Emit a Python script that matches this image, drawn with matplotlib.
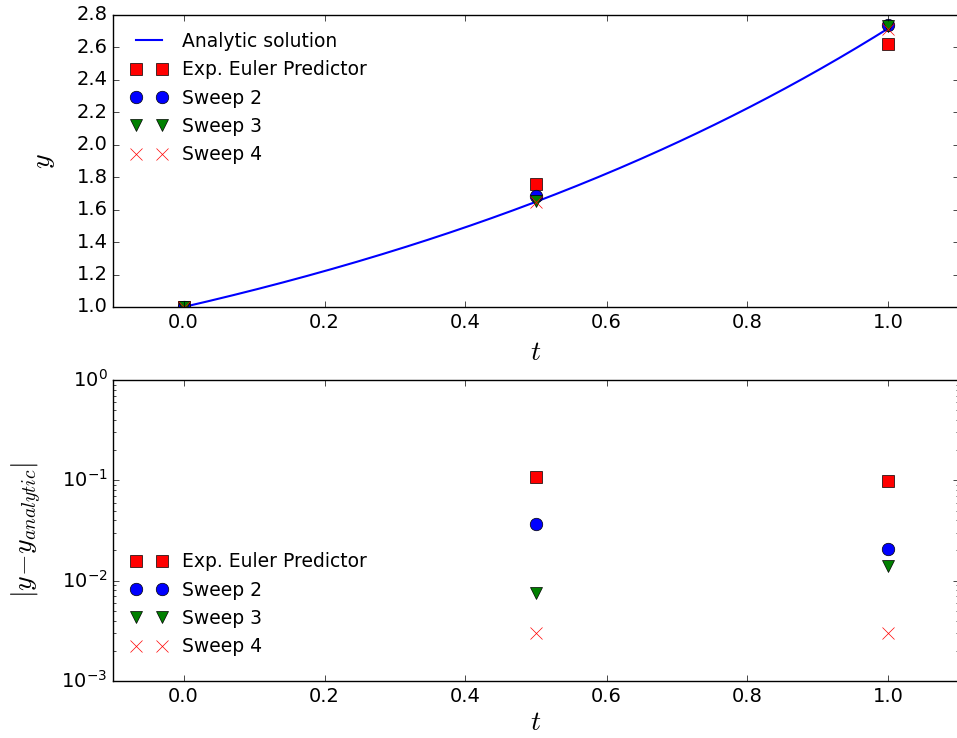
import numpy as np
import matplotlib
matplotlib.use("Agg")
import matplotlib.pyplot as plt

plt.style.use('classic')
plt.rcParams['figure.facecolor'] = 'white'
plt.rcParams['savefig.facecolor'] = 'white'

t_nodes = [0.0, 0.5, 1.0]
labels = ["Exp. Euler Predictor", "Sweep 2", "Sweep 3", "Sweep 4"]
y_values = [
    [1.0, 1.757, 2.620],   # Exp. Euler Predictor
    [1.0, 1.685, 2.739],   # Sweep 2
    [1.0, 1.656, 2.733],   # Sweep 3
    [1.0, 1.646, 2.716],   # Sweep 4
]
err_values = [
    [0.108, 0.0985],
    [0.0367, 0.0207],
    [0.0075, 0.0140],
    [0.0030, 0.0030],
]
markers = ['s', 'o', 'v', 'x']
colors = ['red', 'blue', 'green', 'red']

t_fine = np.linspace(0, 1, 200)
y_fine = np.exp(t_fine)

fig = plt.figure(figsize=(9.57, 7.38), dpi=100)
ax1 = fig.add_axes([113/957, 1-307/738, (959-113)/957, (307-15)/738])
ax2 = fig.add_axes([113/957, 1-681/738, (959-113)/957, (681-380)/738])

ax1.plot(t_fine, y_fine, color='blue', linewidth=1.5, label='Analytic solution')
for lab, yv, m, c in zip(labels, y_values, markers, colors):
    if m == 'x':
        ax1.plot(t_nodes, yv, linestyle='none', marker=m, color=c, markeredgecolor=c, markersize=9, label=lab)
    else:
        ax1.plot(t_nodes, yv, linestyle='none', marker=m, color=c, markersize=9, label=lab)
ax1.set_xlim(-0.1, 1.1)
ax1.set_ylim(1.0, 2.8)
ax1.set_yticks(np.arange(1.0, 2.81, 0.2))
ax1.set_xticks(np.arange(0.0, 1.01, 0.2))
ax1.set_xlabel('$t$', fontsize=20)
ax1.set_ylabel('$y$', fontsize=20)
ax1.yaxis.set_label_coords(-0.066, 0.5)
ax1.legend(loc='upper left', frameon=False, numpoints=2, fontsize=13.5)

for lab, ev, m, c in zip(labels, err_values, markers, colors):
    if m == 'x':
        ax2.plot(t_nodes[1:], ev, linestyle='none', marker=m, color=c, markeredgecolor=c, markersize=9, label=lab)
    else:
        ax2.plot(t_nodes[1:], ev, linestyle='none', marker=m, color=c, markersize=9, label=lab)
ax2.set_yscale('log')
ax2.set_xlim(-0.1, 1.1)
ax2.set_ylim(1e-3, 1e0)
ax2.set_xticks(np.arange(0.0, 1.01, 0.2))
ax2.set_xlabel('$t$', fontsize=20, labelpad=2)
ax2.set_ylabel(r'$|y\!-\!y_{analytic}|$', fontsize=20)
ax2.yaxis.set_label_coords(-0.082, 0.5)
ax2.legend(loc='upper left', bbox_to_anchor=(0.0, 0.484), frameon=False, numpoints=2, fontsize=13.5)

for ax in (ax1, ax2):
    ax.tick_params(labelsize=14)

fig.savefig('out.png', dpi=100)
